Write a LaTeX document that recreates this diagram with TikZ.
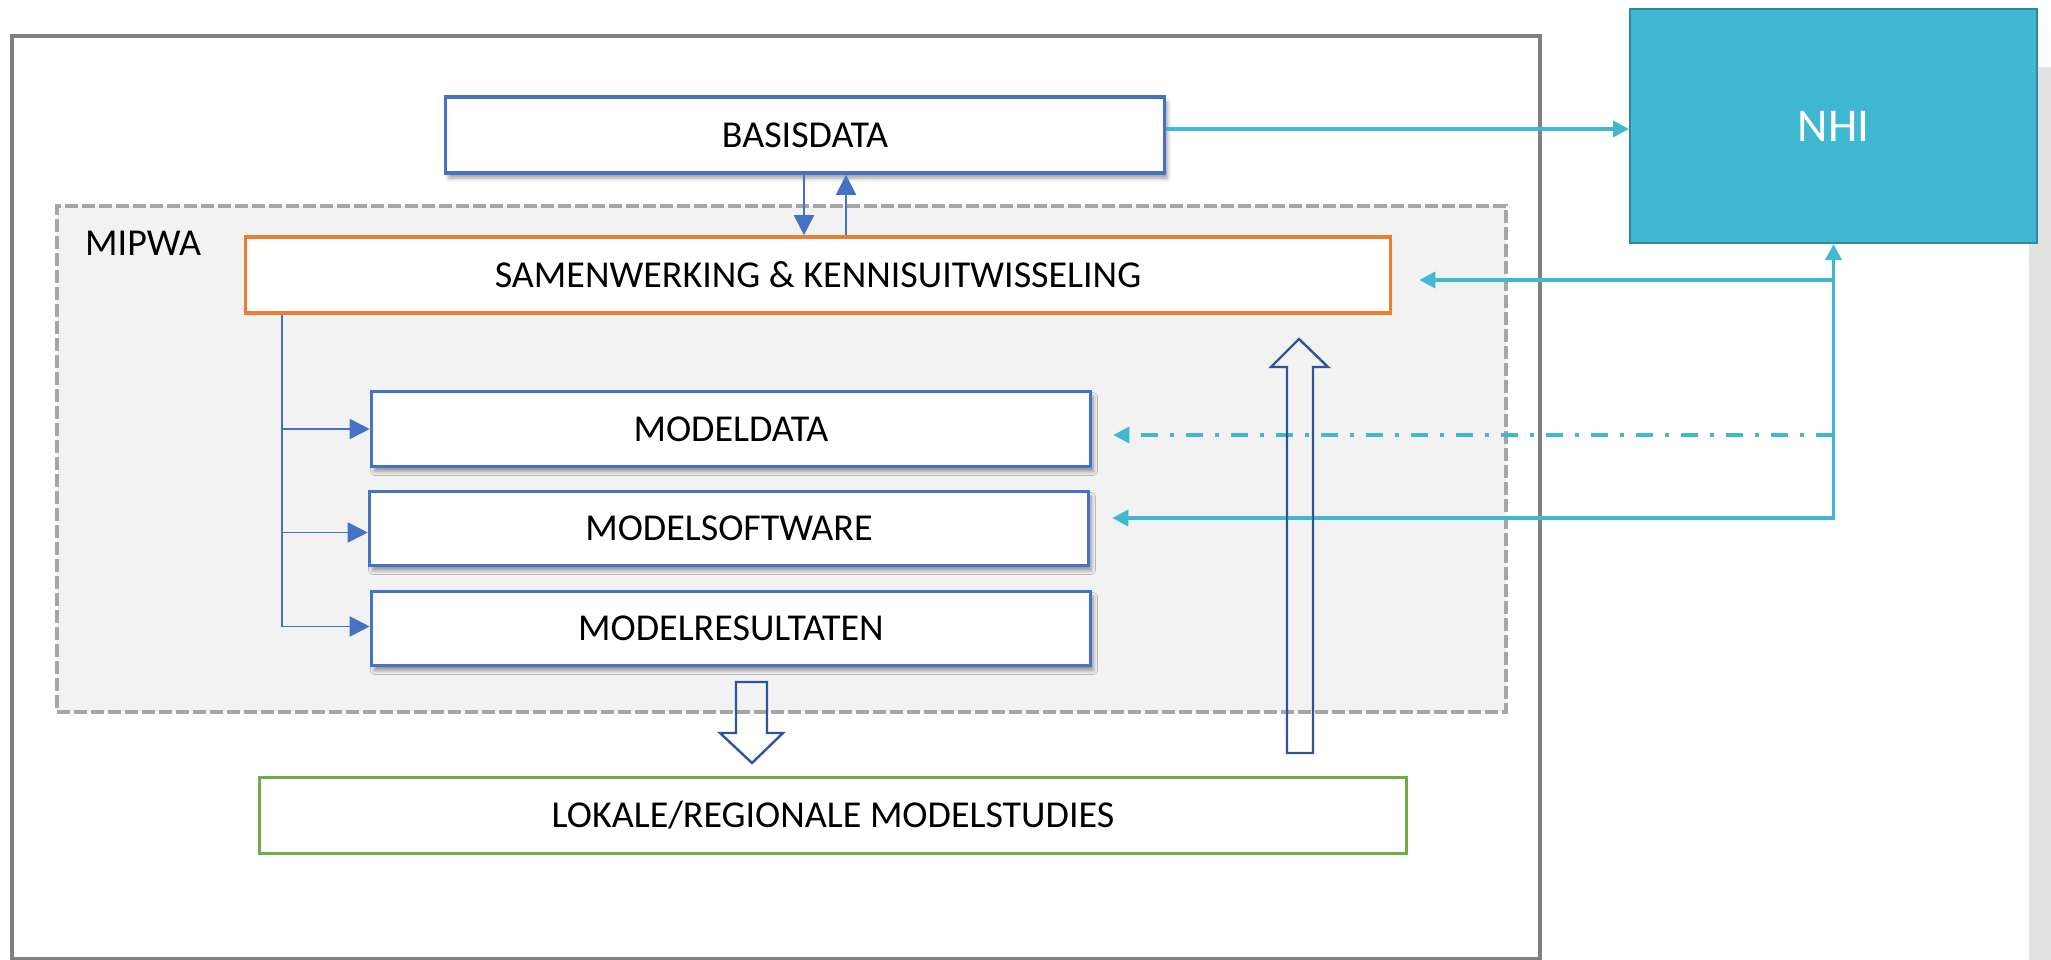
\documentclass[tikz,border=0pt]{standalone}
\usepackage{fontspec}
\setmainfont{Carlito}
\usetikzlibrary{arrows.meta,shadows.blur,calc}
\definecolor{bblue}{HTML}{4472C4}
\definecolor{oorange}{HTML}{ED7D31}
\definecolor{ggreen}{HTML}{70AD47}
\definecolor{tteal}{HTML}{41B8D1}
\definecolor{tealdark}{HTML}{2E8A9C}
\definecolor{navy}{HTML}{2F5597}
\definecolor{lgrey}{HTML}{F2F2F2}
\definecolor{dgrey}{HTML}{A6A6A6}
\definecolor{ogrey}{HTML}{808080}
\definecolor{stripgrey}{HTML}{E2E2E2}
\tikzset{
  tealtip/.tip={Triangle[length=16pt,width=16pt]},
  bluetip/.tip={Triangle[length=20pt,width=20pt]},
}
\begin{document}
\begin{tikzpicture}[x=1pt,y=-1pt,
  lbl/.style={font=\fontsize{38}{45}\selectfont, text height=24.5pt, text depth=0pt, inner sep=0pt},
  boxbase/.style={lbl, draw, line width=3.6pt, fill=white, minimum height=76pt},
  bluebox/.style={boxbase, draw=bblue, blur shadow={shadow xshift=3pt, shadow yshift=-5pt, shadow blur radius=4pt, shadow opacity=40}},
  orangebox/.style={boxbase, draw=oorange},
  greenbox/.style={boxbase, draw=ggreen},
  nhibox/.style={draw=tealdark, fill=tteal, line width=2pt, text=white, inner sep=0pt,
     font=\fontsize{47}{56}\selectfont, text height=31pt, text depth=0pt},
  tealline/.style={draw=tteal, line width=3.6pt},
  bline/.style={draw=bblue, line width=1.8pt},
  blockarrow/.style={draw=navy, line width=2.4pt, line join=miter},
]
\useasboundingbox (0,0) rectangle (2051,960);
% right grey strip
\fill[stripgrey] (2029,67) rectangle (2051,960);
% containers
\node[draw=ogrey, line width=3.5pt, minimum width=1528pt, minimum height=923pt, inner sep=0pt] (outer) at (776,497.5) {};
\node[draw=dgrey, fill=lgrey, line width=3.5pt, dash pattern=on 13pt off 4pt,
      minimum width=1449pt, minimum height=506pt, inner sep=0pt] (mipwabox) at (781.5,459) {};
\node[lbl, anchor=base west] (mipwa) at (85,255) {MIPWA};
% boxes
\node[bluebox, minimum width=719pt] (basis) at (805,135) {BASISDATA};
\node[orangebox, minimum width=1145pt] (samen) at (818,275) {SAMENWERKING \& KENNISUITWISSELING};
\node[bluebox, minimum width=719pt, minimum height=75pt] (mdata) at (731,429) {MODELDATA};
\node[bluebox, minimum width=719pt, minimum height=74pt] (msoft) at (729,528.5) {MODELSOFTWARE};
\node[bluebox, minimum width=719pt, minimum height=74pt] (mres) at (731,628.5) {MODELRESULTATEN};
\node[greenbox, minimum width=1147pt] (lokale) at (833,815.5) {LOKALE/REGIONALE MODELSTUDIES};
\node[nhibox, minimum width=407pt, minimum height=234pt] (nhi) at (1833.5,126) {NHI};
% teal connectors
\coordinate (yb) at (0,129);
\coordinate (jo) at (1833,280);
\coordinate (jd) at (1833,435);
\coordinate (js) at (1833,518);
\draw[tealline, -tealtip] (basis.east |- yb) -- (nhi.west |- yb);
\draw[tealline, tealtip-tealtip] (nhi.south) |- ($(msoft.east |- js)+(22,0)$);
\draw[tealline, -tealtip] (jo) -- ($(samen.east |- jo)+(27,0)$);
\draw[tealline, dash pattern=on 17pt off 12pt on 4pt off 12pt, -tealtip] (jd) -- ($(mdata.east |- jd)+(21,0)$);
% blue tree
\coordinate (tx) at (282,0);
\draw[bline, -bluetip] (samen.south -| tx) |- ($(mres.west)+(0,-2)$);
\draw[bline, -bluetip] (tx |- mdata.west) -- (mdata.west);
\draw[bline, -bluetip] ($(tx |- msoft.west)+(0,4)$) -- ($(msoft.west)+(0,4)$);
% basis <-> samen
\coordinate (xd) at (804,0);
\coordinate (xu) at (846,0);
\draw[bline, -bluetip] (basis.south -| xd) -- (samen.north -| xd);
\draw[bline, -bluetip] (samen.north -| xu) -- (basis.south -| xu);
% block arrows
\draw[blockarrow] (736,682) -- (767,682) -- (767,733) -- (783,733) -- (752,763) -- (720,733) -- (736,733) -- cycle;
\draw[blockarrow] (1287,753) -- (1313,753) -- (1313,367) -- (1328,367) -- (1299,339) -- (1271,367) -- (1287,367) -- cycle;
\end{tikzpicture}
\end{document}
